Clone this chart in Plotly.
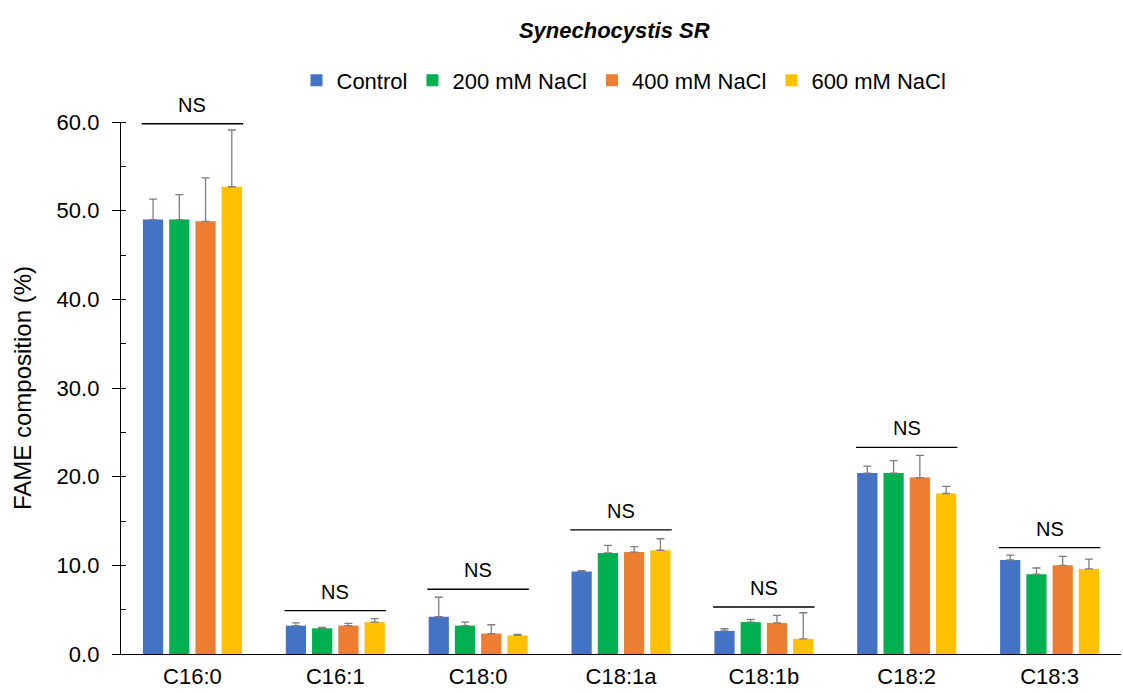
import plotly.graph_objects as go

categories = ["C16:0", "C16:1", "C18:0", "C18:1a", "C18:1b", "C18:2", "C18:3"]
series_names = ["Control", "200 mM NaCl", "400 mM NaCl", "600 mM NaCl"]

control = [49.0, 3.2, 4.2, 9.3, 2.6, 20.4, 10.6]
nacl200 = [49.0, 2.9, 3.2, 11.4, 3.6, 20.4, 9.0]
nacl400 = [48.8, 3.2, 2.3, 11.5, 3.5, 19.9, 10.0]
nacl600 = [52.7, 3.6, 2.1, 11.7, 1.7, 18.1, 9.6]

control_err = [2.3, 0.3, 2.2, 0.1, 0.25, 0.8, 0.55]
nacl200_err = [2.8, 0.1, 0.4, 0.85, 0.3, 1.4, 0.7]
nacl400_err = [4.9, 0.25, 1.0, 0.6, 0.85, 2.5, 1.0]
nacl600_err = [6.4, 0.4, 0.1, 1.3, 2.95, 0.8, 1.1]

ns_levels = [59.8, 4.9, 7.3, 14.0, 5.3, 23.3, 12.0]
ns_labels = ["NS"] * 7

colors = ["#4472C4", "#00B050", "#ED7D31", "#FFC000"]
FONT = "Liberation Sans, Arial, sans-serif"
FS = 22

values = [control, nacl200, nacl400, nacl600]
errors = [control_err, nacl200_err, nacl400_err, nacl600_err]

fig = go.Figure()
for name, vals, errs, col in zip(series_names, values, errors, colors):
    fig.add_trace(go.Bar(
        x=categories, y=vals, name=name,
        marker=dict(color=col, line=dict(width=0)),
        error_y=dict(type="data", symmetric=False, array=errs,
                     arrayminus=[0] * len(errs), color="#7f7f7f",
                     thickness=1.3, width=4),
    ))

half = 0.355
for i, (lvl, lab) in enumerate(zip(ns_levels, ns_labels)):
    fig.add_shape(type="line", xref="x", yref="y", x0=i - half, x1=i + half,
                  y0=lvl, y1=lvl, line=dict(color="black", width=1.3))
    fig.add_annotation(x=i, y=lvl, xref="x", yref="y", text=lab, showarrow=False,
                       yshift=19, font=dict(family=FONT, size=20, color="black"))

fig.update_layout(
    width=1123, height=693,
    margin=dict(l=121, r=2, t=122, b=39),
    paper_bgcolor="white", plot_bgcolor="white",
    barmode="group", bargap=0.265, bargroupgap=0.23,
    font=dict(family=FONT, size=FS, color="black"),
    title=dict(text="<b><i>Synechocystis SR</i></b>", x=0.547, xanchor="center",
               y=1 - 30 / 693, yanchor="middle",
               font=dict(family=FONT, size=FS, color="black")),
    legend=dict(orientation="h", x=0.503, xanchor="center", y=1.078, yanchor="middle",
                font=dict(family=FONT, size=FS), itemwidth=30, traceorder="normal"),
    xaxis=dict(showline=True, linecolor="black", linewidth=1.3, ticks="",
               showgrid=False, range=[-0.5, 6.5], automargin=False,
               ticklabelstandoff=2,
               tickfont=dict(family=FONT, size=FS)),
    yaxis=dict(range=[0, 60], dtick=10, tickformat=".1f", showline=True,
               linecolor="black", linewidth=1.3, ticks="outside", ticklen=8,
               tickcolor="black", tickwidth=1.3, showgrid=False, zeroline=False,
               automargin=False, ticklabelstandoff=8,
               minor=dict(ticks="inside", dtick=5, ticklen=5, tickcolor="black", tickwidth=1.3),
               title=dict(text="FAME composition (%)", font=dict(family=FONT, size=24), standoff=18),
               tickfont=dict(family=FONT, size=FS)),
    yaxis2=dict(range=[0, 60], dtick=10, overlaying="y", anchor="x", side="left",
                ticks="inside", ticklen=6, tickcolor="black", tickwidth=1.3,
                showticklabels=False, showgrid=False, zeroline=False, showline=False),
)

fig.write_html("out.html")
